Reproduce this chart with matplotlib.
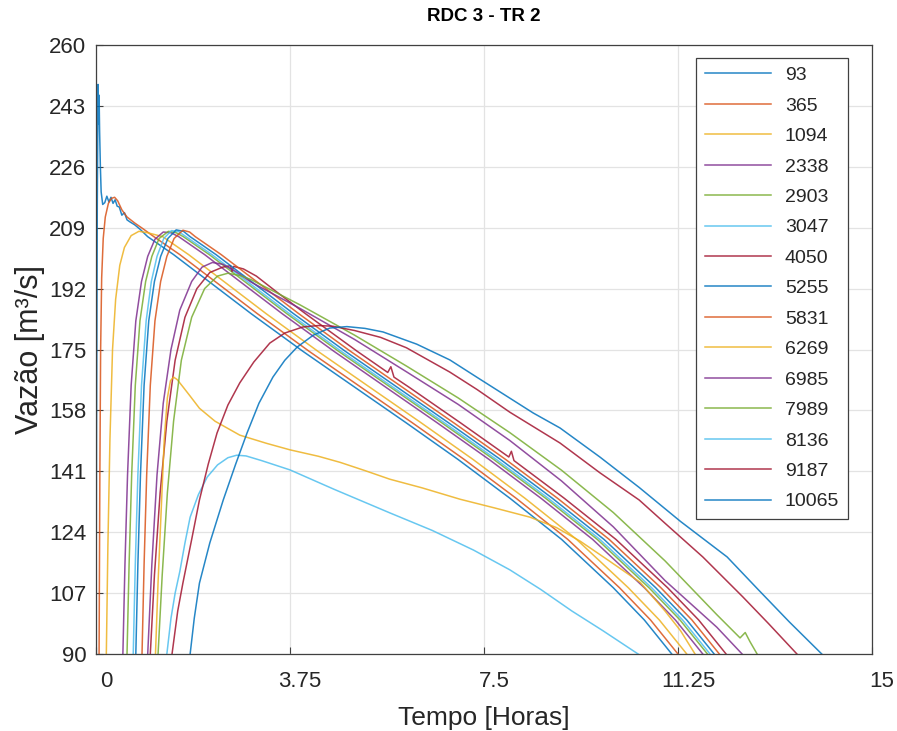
import numpy as np
import matplotlib
matplotlib.use("Agg")
import matplotlib.pyplot as plt
from matplotlib.transforms import ScaledTranslation

# Hydrograph curves: (tempo [h], vazão [m3/s])
labels = ["93", "365", "1094", "2338", "2903", "3047", "4050", "5255",
          "5831", "6269", "6985", "7989", "8136", "9187", "10065"]

s93 = [(0.0, 90), (0.01, 150), (0.025, 215), (0.04, 249), (0.05, 238), (0.06, 246),
       (0.07, 236), (0.085, 226), (0.1, 219), (0.13, 215.5), (0.17, 216), (0.21, 217.8),
       (0.25, 216.2), (0.29, 217.5), (0.33, 215.8), (0.37, 216.8), (0.41, 215), (0.45, 214.8),
       (0.5, 212.5), (0.55, 213.2), (0.6, 211.2), (0.66, 210.6), (0.75, 209.8), (0.85, 208.6),
       (1.0, 206.5), (1.5, 201.5), (2.0, 196), (3.0, 185), (4.0, 174.5), (5.0, 164.5),
       (6.0, 154.5), (7.0, 144.3), (8.0, 133.5), (9.0, 122), (10.0, 108.5), (10.6, 99.5),
       (11.13, 90)]
s365 = [(0.06, 90), (0.075, 140), (0.09, 175), (0.11, 195), (0.14, 206), (0.18, 212),
        (0.24, 215.8), (0.3, 217.2), (0.36, 217.5), (0.42, 216.5), (0.5, 214), (0.6, 212),
        (0.75, 210.3), (0.9, 208.8), (1.12, 206.5), (1.62, 201.5), (2.12, 196), (3.12, 185),
        (4.12, 174.5), (5.12, 164.5), (6.12, 154.5), (7.12, 144.3), (8.12, 133.5), (9.12, 122),
        (10.12, 108.5), (10.72, 99.5), (11.25, 90)]
s1094 = [(0.2, 90), (0.23, 120), (0.27, 150), (0.32, 175), (0.38, 189), (0.46, 198.5),
         (0.55, 203.5), (0.68, 206.8), (0.83, 208), (1.0, 207.6), (1.29, 206.5), (1.79, 201.5),
         (2.29, 196), (3.29, 185), (4.29, 174.5), (5.29, 164.5), (6.29, 154.5), (7.29, 144.3),
         (8.29, 133.5), (9.29, 122), (10.29, 108.5), (10.89, 99.5), (11.42, 90)]
s2338 = [(0.52, 90), (0.56, 115), (0.61, 140), (0.68, 165), (0.77, 183), (0.88, 194),
         (1.0, 201), (1.14, 205.8), (1.3, 207.8), (1.45, 207.6), (1.6, 206.5), (2.1, 201.5),
         (2.6, 196), (3.6, 185), (4.6, 174.5), (5.6, 164.5), (6.6, 154.5), (7.6, 144.3),
         (8.6, 133.5), (9.6, 122), (10.6, 108.5), (11.2, 99.5), (11.73, 90)]
s2903 = [(0.6, 90), (0.64, 115), (0.69, 140), (0.76, 165), (0.85, 183), (0.96, 194),
         (1.08, 201), (1.22, 206), (1.4, 208), (1.55, 207.6), (1.69, 206.5), (2.19, 201.5),
         (2.69, 196), (3.69, 185), (4.69, 174.5), (5.69, 164.5), (6.69, 154.5), (7.69, 144.3),
         (8.69, 133.5), (9.69, 122), (10.69, 108.5), (11.29, 99.5), (11.82, 90)]
s3047 = [(0.72, 90), (0.76, 115), (0.81, 140), (0.88, 165), (0.97, 183), (1.07, 194),
         (1.18, 201), (1.31, 206), (1.46, 208.2), (1.6, 207.9), (1.74, 206.5), (2.24, 201.5),
         (2.74, 196), (3.74, 185), (4.74, 174.5), (5.74, 164.5), (6.74, 154.5), (7.74, 144.3),
         (8.74, 133.5), (9.74, 122), (10.74, 108.5), (11.34, 99.5), (11.87, 90)]
s4050 = [(1.05, 90), (1.13, 112), (1.24, 135), (1.37, 155), (1.53, 172), (1.72, 184),
         (1.95, 192), (2.2, 196.5), (2.45, 198), (2.6, 198.4), (2.63, 196.8), (2.66, 198.2),
         (2.85, 197.5), (3.1, 195.5), (3.5, 191), (4.05, 185), (5.05, 174.5), (5.64, 168.6),
         (5.7, 170.2), (5.76, 167.3), (6.05, 164.5), (7.05, 154.5), (7.98, 145), (8.03, 146.6),
         (8.08, 144), (9.05, 133.5), (10.05, 122), (11.05, 108.5), (11.65, 99.5), (12.18, 90)]
s5255 = [(0.77, 90), (0.81, 115), (0.86, 140), (0.93, 165), (1.02, 183), (1.13, 194),
         (1.25, 201), (1.39, 206), (1.55, 208.4), (1.69, 208), (1.82, 206.5), (2.32, 201.5),
         (2.82, 196), (3.82, 185), (4.82, 174.5), (5.82, 164.5), (6.82, 154.5), (7.82, 144.3),
         (8.82, 133.5), (9.82, 122), (10.82, 108.5), (11.42, 99.5), (11.95, 90)]
s5831 = [(0.89, 90), (0.93, 115), (0.98, 140), (1.05, 165), (1.14, 183), (1.25, 194),
         (1.37, 201), (1.51, 206), (1.68, 208.3), (1.81, 207.8), (1.92, 206.5), (2.42, 201.5),
         (2.92, 196), (3.92, 185), (4.92, 174.5), (5.92, 164.5), (6.92, 154.5), (7.92, 144.3),
         (8.92, 133.5), (9.92, 122), (10.92, 108.5), (11.52, 99.5), (12.05, 90)]
s6269 = [(1.15, 90), (1.2, 110), (1.26, 130), (1.32, 150), (1.38, 161.5), (1.44, 166.3),
         (1.5, 167.3), (1.57, 166.6), (1.68, 164.6), (1.82, 162), (2.0, 158.6), (2.3, 155),
         (2.78, 151.1), (3.3, 148.8), (3.75, 147), (4.3, 145.2), (4.72, 143.5), (5.2, 141.2),
         (5.68, 138.8), (6.3, 136.4), (7.04, 133.2), (7.7, 130.8), (8.39, 128.2), (8.9, 125.3),
         (9.36, 121.5), (9.9, 116.2), (10.52, 110), (11.0, 102), (11.3, 96.5), (11.58, 90)]
s6985 = [(1.0, 90), (1.08, 115), (1.18, 140), (1.3, 160), (1.45, 175), (1.62, 186),
         (1.85, 194), (2.05, 198), (2.25, 199.3), (2.45, 198.8), (2.7, 196.8), (3.0, 193.8),
         (3.94, 186.5), (5.0, 177.8), (6.0, 168.8), (7.0, 159.7), (8.0, 149.6), (9.0, 138.3),
         (10.0, 125.5), (11.0, 110.5), (12.0, 97.5), (12.49, 90)]
s7989 = [(1.2, 90), (1.28, 112), (1.38, 135), (1.5, 155), (1.65, 172), (1.85, 184),
         (2.1, 192), (2.35, 195.5), (2.55, 196.3), (2.8, 195.6), (3.0, 194.5), (3.94, 187.5),
         (5.0, 179), (6.0, 170.4), (7.0, 161.5), (8.0, 151.8), (9.0, 141.3), (10.0, 129.5),
         (11.0, 116), (12.0, 101), (12.45, 94.5), (12.55, 96), (12.64, 93.5), (12.78, 90)]
s8136 = [(1.37, 90), (1.45, 100), (1.53, 107), (1.62, 113), (1.72, 121), (1.82, 128.2),
         (1.98, 134.5), (2.15, 139.4), (2.35, 142.8), (2.55, 144.8), (2.72, 145.5), (2.9, 145.3),
         (3.2, 144), (3.75, 141.4), (4.6, 136), (5.68, 129.4), (6.5, 124.5), (7.3, 119),
         (8.0, 113.5), (8.6, 108), (9.2, 102), (9.8, 96.5), (10.48, 90)]
s9187 = [(1.47, 90), (1.58, 102), (1.68, 109.8), (1.85, 122), (2.0, 133), (2.17, 143),
         (2.34, 151.7), (2.55, 159.5), (2.78, 165.7), (3.05, 171.5), (3.36, 176.8), (3.65, 179.6),
         (4.0, 181.3), (4.3, 181.7), (4.58, 181.5), (5.0, 180.3), (5.5, 178.4), (6.0, 175.5),
         (6.84, 168.7), (7.37, 163.8), (8.0, 157.5), (8.97, 148.9), (9.74, 140.6), (10.5, 133),
         (11.0, 126.5), (11.73, 117.1), (12.5, 106), (13.0, 98.5), (13.55, 90)]
s10065 = [(1.82, 90), (1.9, 100), (2.0, 109.8), (2.2, 121), (2.46, 133), (2.7, 143),
          (2.92, 151.7), (3.15, 160), (3.42, 167.3), (3.65, 172), (3.89, 175.7), (4.2, 179),
          (4.52, 181), (4.85, 181.4), (5.2, 180.9), (5.55, 179.9), (6.2, 176.5), (6.84, 172.1),
          (7.37, 167.2), (8.45, 157.3), (8.97, 153.1), (9.74, 145), (10.5, 136.5), (11.3, 127),
          (12.2, 117.1), (12.8, 108), (13.4, 99), (14.03, 90)]

series = [s93, s365, s1094, s2338, s2903, s3047, s4050, s5255,
          s5831, s6269, s6985, s7989, s8136, s9187, s10065]

x_ticks = [0, 3.75, 7.5, 11.25, 15]
x_tick_labels = ["0", "3.75", "7.5", "11.25", "15"]
y_ticks = [90, 107, 124, 141, 158, 175, 192, 209, 226, 243, 260]

# MATLAB default colour order
matlab_colors = ["#0072BD", "#D95319", "#EDB120", "#7E2F8E",
                 "#77AC30", "#4DBEEE", "#A2142F"]

plt.rcParams['font.family'] = ['Liberation Sans', 'DejaVu Sans']
text_color = "#262626"

fig = plt.figure(figsize=(8.97, 7.31), dpi=100)
ax = fig.add_axes([0.107, 0.1053, 0.8651, 0.8331])

for i, (lab, pts) in enumerate(zip(labels, series)):
    data = np.array(pts, dtype=float)
    ax.plot(data[:, 0], data[:, 1], color=matlab_colors[i % 7], lw=1.1,
            alpha=0.85, label=lab)

ax.set_xlim(0, 15)
ax.set_ylim(90, 260)
ax.set_xticks(x_ticks)
ax.set_xticklabels(x_tick_labels)
ax.set_yticks(y_ticks)
ax.grid(True, color="#e3e3e3", lw=0.9)
ax.set_axisbelow(True)
ax.tick_params(direction='in', length=5, width=0.8, colors="#404040",
               labelcolor=text_color, labelsize=16)
ax.tick_params(axis='x', pad=12)
ax.tick_params(axis='y', pad=7)
# the x tick labels sit a little right of their ticks in the reference
shift = ScaledTranslation(10 / 100, 0, fig.dpi_scale_trans)
for lbl in ax.get_xticklabels():
    lbl.set_transform(lbl.get_transform() + shift)
for sp in ax.spines.values():
    sp.set_color("#404040")
    sp.set_linewidth(0.9)

ax.set_title("RDC 3 - TR 2", fontsize=13.5, fontweight='bold', color="#000000", pad=17)
ax.set_xlabel("Tempo [Horas]", fontsize=19, color=text_color, labelpad=10)
ax.set_ylabel("Vazão [m³/s]", fontsize=22, color=text_color, labelpad=3)

leg = ax.legend(loc='upper right', bbox_to_anchor=(0.969, 0.979), borderaxespad=0,
                fontsize=14, handlelength=3.4, handletextpad=0.7, labelspacing=0.66,
                fancybox=False, framealpha=1, edgecolor="#404040", borderpad=0.45)
leg.get_frame().set_linewidth(0.9)
for t in leg.get_texts():
    t.set_color(text_color)

fig.savefig("out.png", dpi=100)
